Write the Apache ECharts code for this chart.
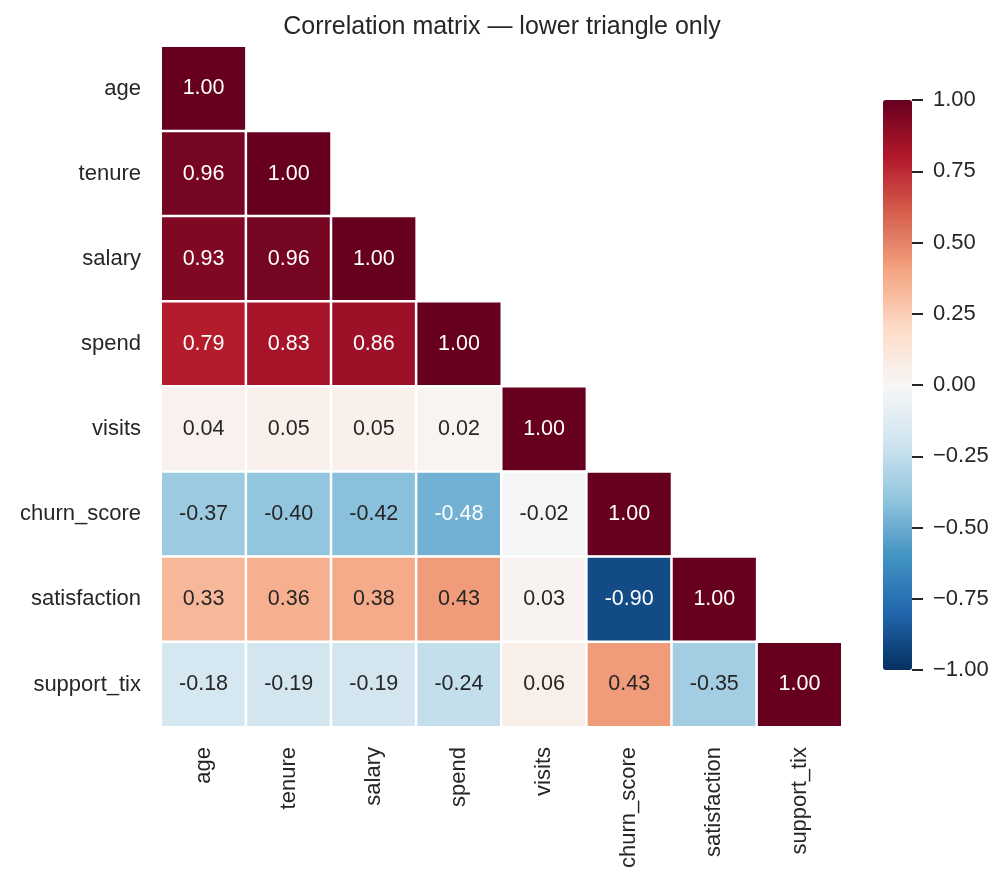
<!DOCTYPE html>
<html>
<head>
<meta charset="utf-8">
<script src="https://cdn.jsdelivr.net/npm/echarts@6/dist/echarts.min.js"></script>
<style>
  html, body { margin: 0; padding: 0; background: #fff; }
  #chart { width: 1004px; height: 886px; }
</style>
</head>
<body>
<div id="chart"></div>
<script>
// variable names, top to bottom / left to right
const labels = ["age", "tenure", "salary", "spend", "visits", "churn_score", "satisfaction", "support_tix"];

// lower triangle rows (diagonal included)
const rowAge = [1.00];
const rowTenure = [0.96, 1.00];
const rowSalary = [0.93, 0.96, 1.00];
const rowSpend = [0.79, 0.83, 0.86, 1.00];
const rowVisits = [0.04, 0.05, 0.05, 0.02, 1.00];
const rowChurn = [-0.37, -0.40, -0.42, -0.48, -0.02, 1.00];
const rowSatisfaction = [0.33, 0.36, 0.38, 0.43, 0.03, -0.90, 1.00];
const rowSupport = [-0.18, -0.19, -0.19, -0.24, 0.06, 0.43, -0.35, 1.00];

const rows = [rowAge, rowTenure, rowSalary, rowSpend, rowVisits, rowChurn, rowSatisfaction, rowSupport];

// colorbar ticks
const cbarTicks = [-1, -0.75, -0.5, -0.25, 0, 0.25, 0.5, 0.75, 1];

// RdBu_r
const palette = ["#053061", "#2166ac", "#4393c3", "#92c5de", "#d1e5f0", "#f7f7f7",
                 "#fddbc7", "#f4a582", "#d6604d", "#b2182b", "#67001f"];

const font = "'Liberation Sans', Arial, sans-serif";
const textColor = "#262626";

let cells = [];
rows.forEach((r, i) => {
  r.forEach((v, j) => {
    let light = v >= 0.6 || v <= -0.45;
    cells.push({
      value: [j, i, v],
      label: { color: light ? "#ffffff" : textColor }
    });
  });
});

function fmtMinus(v) {
  return v < 0 ? "\u2212" + Math.abs(v).toFixed(2) : v.toFixed(2);
}

let chart = echarts.init(document.getElementById("chart"));
chart.setOption({
  animation: false,
  backgroundColor: "#fff",
  title: {
    text: "Correlation matrix \u2014 lower triangle only",
    left: "center",
    top: 10,
    textStyle: { fontFamily: font, fontSize: 25, fontWeight: "normal", color: textColor }
  },
  grid: [
    { left: 161, top: 46, width: 681, height: 681 },
    // thin strip right of the colour bar, holds the colorbar ticks
    { left: 912, top: 100, width: 40, height: 570 }
  ],
  xAxis: [
    {
      type: "category",
      gridIndex: 0,
      data: labels,
      axisLine: { show: false },
      axisTick: { show: false },
      splitLine: { show: false },
      axisLabel: {
        rotate: 90,
        margin: 20,
        fontFamily: font,
        fontSize: 22,
        color: textColor
      }
    },
    { type: "value", gridIndex: 1, show: false }
  ],
  yAxis: [
    {
      type: "category",
      gridIndex: 0,
      data: labels,
      inverse: true,
      axisLine: { show: false },
      axisTick: { show: false },
      splitLine: { show: false },
      axisLabel: {
        margin: 20,
        fontFamily: font,
        fontSize: 22,
        color: textColor
      }
    },
    {
      type: "value",
      gridIndex: 1,
      position: "left",
      min: cbarTicks[0],
      max: cbarTicks[cbarTicks.length - 1],
      interval: 0.25,
      z: 10,
      axisLine: { show: true, lineStyle: { color: "#ffffff", opacity: 0 } },
      splitLine: { show: false },
      axisTick: { show: true, inside: true, length: 11, lineStyle: { color: textColor, width: 2 } },
      axisLabel: {
        inside: true,
        margin: 21,
        fontFamily: font,
        fontSize: 22,
        color: textColor,
        formatter: fmtMinus
      }
    }
  ],
  visualMap: {
    type: "continuous",
    seriesIndex: 0,
    min: -1,
    max: 1,
    calculable: false,
    orient: "vertical",
    left: 883,
    top: 100,
    itemWidth: 29,
    itemHeight: 570,
    padding: 0,
    text: null,
    showLabel: false,
    inRange: { color: palette }
  },
  series: [
    {
      type: "heatmap",
      xAxisIndex: 0,
      yAxisIndex: 0,
      data: cells,
      itemStyle: { borderColor: "#ffffff", borderWidth: 2.5 },
      label: {
        show: true,
        fontFamily: font,
        fontSize: 21.5,
        formatter: p => p.value[2].toFixed(2)
      },
      emphasis: { disabled: true }
    }
  ]
});
</script>
</body>
</html>
